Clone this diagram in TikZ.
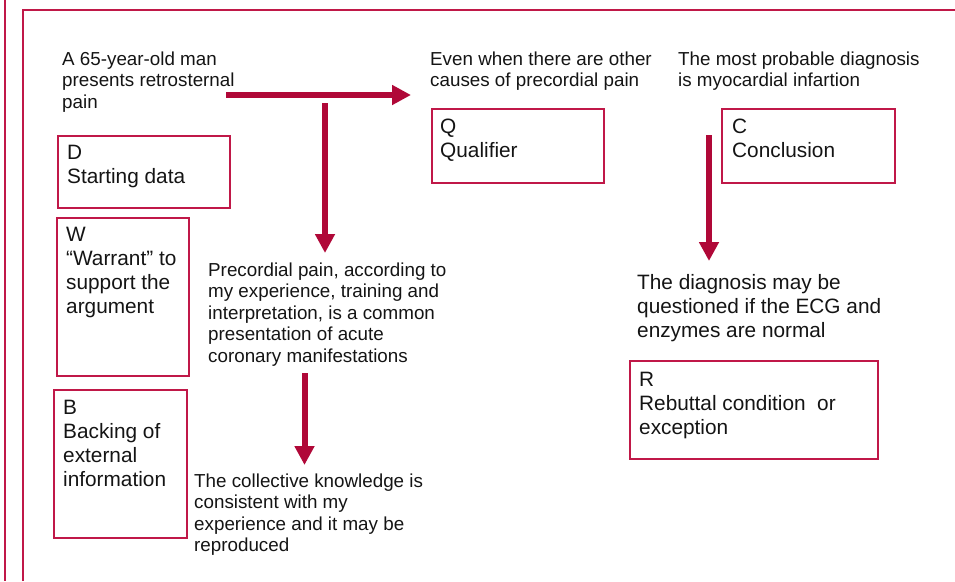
\documentclass[tikz,border=0pt]{standalone}
\usepackage{fontspec}
\setmainfont{Liberation Sans}
\usetikzlibrary{arrows.meta}
\definecolor{arrowred}{RGB}{176,8,56}
\definecolor{boxred}{RGB}{192,24,72}
\definecolor{ink}{RGB}{20,20,20}
\begin{document}
\begin{tikzpicture}[x=1pt,y=-1pt,
  box/.style={draw=boxred,line width=1.6pt,anchor=north west,inner sep=0pt},
  small/.style={anchor=base west,inner sep=0pt,align=left,text=ink,font=\fontsize{18.8}{21.6}\selectfont},
  big/.style={anchor=base west,inner sep=0pt,align=left,text=ink,font=\fontsize{20.8}{24}\selectfont},
  fat/.style={draw=arrowred,line width=6pt,-{Triangle[length=19pt,width=19pt]}}]
\useasboundingbox (0,0) rectangle (955,581);
% frame lines
\coordinate (f1) at (5,0);
\coordinate (f2) at (5,581);
\coordinate (r1) at (23,581);
\coordinate (r2) at (23,10);
\coordinate (r3) at (956,10);
\draw[boxred,line width=2pt] (f1) -- (f2);
\draw[boxred,line width=1.6pt] (r1) -- (r2) -- (r3);
% boxes
\node[box,minimum width=172pt,minimum height=72pt] (D) at (57,135) {};
\node[box,minimum width=132pt,minimum height=158pt] (W) at (56,217) {};
\node[box,minimum width=133pt,minimum height=148pt] (B) at (53,389) {};
\node[box,minimum width=172pt,minimum height=74pt] (Q) at (431,108) {};
\node[box,minimum width=173pt,minimum height=74pt] (C) at (721,108) {};
\node[box,minimum width=248pt,minimum height=98pt] (R) at (629,360) {};
% box texts (anchored at the baseline of the last line)
\node[big] (Dt) at (67,183) {D\\Starting data};
\node[big] (Wt) at (66,313) {W\\“Warrant” to\\support the\\argument};
\node[big] (Bt) at (63,486) {B\\Backing of\\external\\information};
\node[big] (Qt) at (440,157) {Q\\Qualifier};
\node[big] (Ct) at (732,157) {C\\Conclusion};
\node[big] (Rt) at (639,434) {R\\Rebuttal condition~ or\\exception};
% statement texts
\node[small] (data) at (62,108.2) {A 65-year-old man\\presents retrosternal\\pain};
\node[small] (qual) at (430,86.6) {Even when there are other\\causes of precordial pain};
\node[small] (concl) at (678,86.6) {The most probable diagnosis\\is myocardial infartion};
\node[small] (warr) at (208,362.4) {Precordial pain, according to\\my experience, training and\\interpretation, is a common\\presentation of acute\\coronary manifestations};
\node[small] (back) at (194,551.8) {The collective knowledge is\\consistent with my\\experience and it may be\\reproduced};
\node[big] (reb) at (637,337) {The diagnosis may be\\questioned if the ECG and\\enzymes are normal};
% arrows
\coordinate (a1s) at (226,95);
\coordinate (a1e) at (411,95);
\coordinate (a2s) at (325,103);
\coordinate (a2e) at (325,253);
\coordinate (a3s) at (304.5,373);
\coordinate (a3e) at (304.5,465);
\coordinate (a4s) at (709,135);
\coordinate (a4e) at (709,261);
\draw[fat] (a1s) -- (a1e);
\draw[fat] (a2s) -- (a2e);
\draw[fat] (a3s) -- (a3e);
\draw[fat] (a4s) -- (a4e);
\end{tikzpicture}
\end{document}
